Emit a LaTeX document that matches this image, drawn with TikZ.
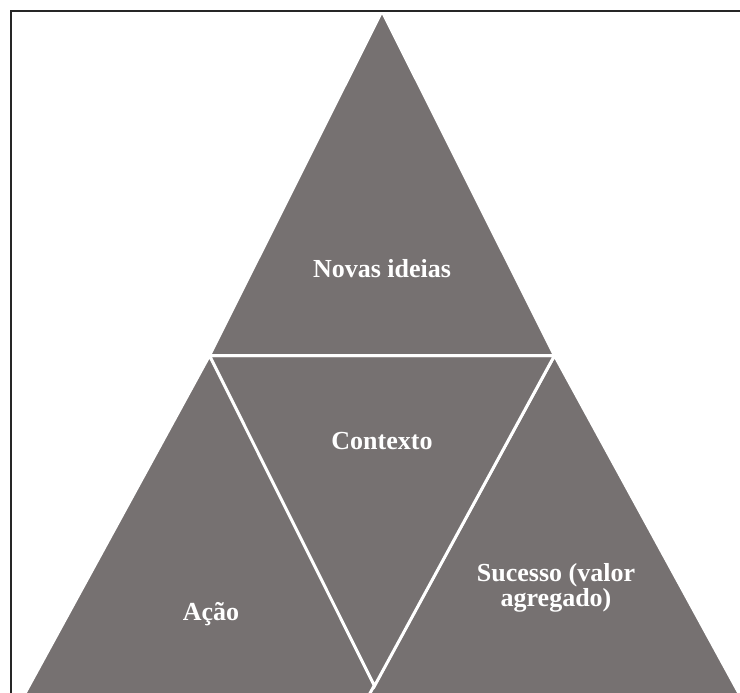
\documentclass[tikz,border=0pt]{standalone}
\usepackage{fontspec}
\setmainfont{Liberation Serif}
\definecolor{tri}{HTML}{767171}
\definecolor{frame}{HTML}{262626}
\tikzset{
  tripart/.style={fill=tri, draw=white, line width=3pt, line join=miter},
  lbl/.style={text=white, font=\fontsize{26}{25}\selectfont\bfseries, align=center, anchor=base, inner sep=0pt},
  framel/.style={draw=frame, line width=2pt}
}
\begin{document}
\begin{tikzpicture}[x=1pt,y=-1pt]
\useasboundingbox (0,0) rectangle (740,693);
\begin{scope}
\clip (0,0) rectangle (740,693);
% coordinates
\coordinate (tA) at (382,11);
\coordinate (tL) at (209.5,355.5);
\coordinate (tR) at (554.5,355.5);
\coordinate (mV) at (374.5,686);
\coordinate (lL) at (-6,750);
\coordinate (lR) at (425,750);
\coordinate (rL) at (339,750);
\coordinate (rR) at (770,750);
% triangles
\path[tripart] (tL) -- (lL) -- (lR) -- cycle;
\path[tripart] (tR) -- (rL) -- (rR) -- cycle;
\path[tripart] (tL) -- (tR) -- (mV) -- cycle;
\path[tripart] (tA) -- (tL) -- (tR) -- cycle;
% frame
\coordinate (f0) at (11,693);
\coordinate (f1) at (11,10.7);
\coordinate (f2) at (745,10.7);
\draw[framel] (f0) -- (f1) -- (f2);
\end{scope}
% labels
\node[lbl] (novas) at (382,277) {Novas ideias};
\node[lbl] (contexto) at (382,449) {Contexto};
\node[lbl] (acao) at (211,620) {Ação};
\node[lbl] (sucesso) at (556,606.5) {Sucesso (valor\\agregado)};
\end{tikzpicture}
\end{document}
